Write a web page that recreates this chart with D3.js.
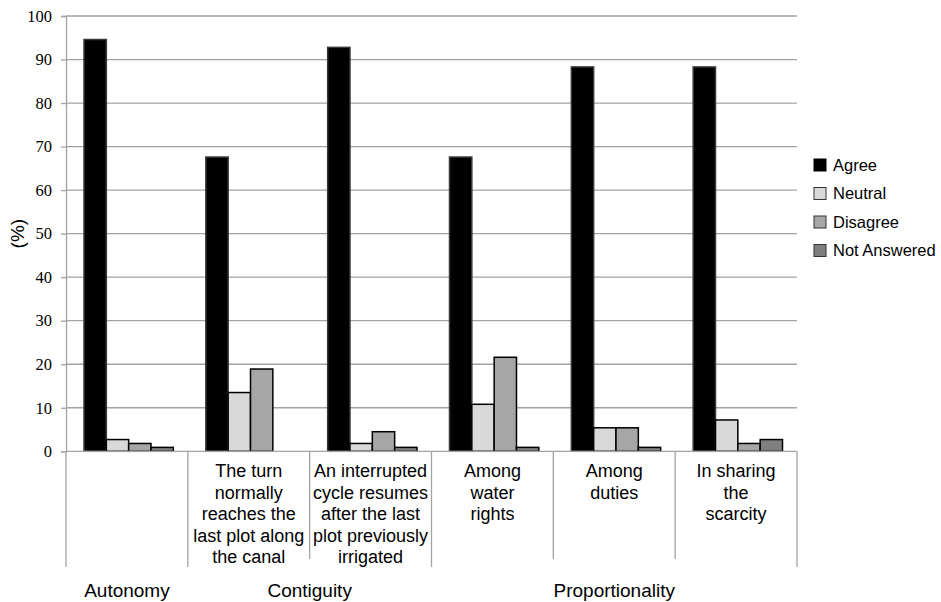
<!DOCTYPE html>
<html>
<head>
<meta charset="utf-8">
<script src="https://cdn.jsdelivr.net/npm/d3@7/dist/d3.min.js"></script>
<style>
  html, body { margin: 0; padding: 0; background: #fff; }
  svg { display: block; }
  .ytick text { font-family: "Liberation Serif", "Times New Roman", serif; }
</style>
</head>
<body>
<svg id="chart" width="941" height="602"></svg>
<script>
// ---- data ----
const groups = ["Autonomy", "Contiguity", "Proportionality"];
const subcategories = [
  { group: "Autonomy", label: [] },
  { group: "Contiguity", label: ["The turn", "normally", "reaches the", "last plot along", "the canal"] },
  { group: "Contiguity", label: ["An interrupted", "cycle resumes", "after the last", "plot previously", "irrigated"] },
  { group: "Proportionality", label: ["Among", "water", "rights"] },
  { group: "Proportionality", label: ["Among", "duties"] },
  { group: "Proportionality", label: ["In sharing", "the", "scarcity"] }
];
const series = ["Agree", "Neutral", "Disagree", "Not Answered"];
const agree       = [94.6, 67.6, 92.8, 67.6, 88.3, 88.3];
const neutral     = [2.7, 13.5, 1.8, 10.8, 5.4, 7.2];
const disagree    = [1.8, 18.9, 4.5, 21.6, 5.4, 1.8];
const notAnswered = [0.9, 0.0, 0.9, 0.9, 0.9, 2.7];
const yTicks = [0, 10, 20, 30, 40, 50, 60, 70, 80, 90, 100];

(function () {
const values = [agree, neutral, disagree, notAnswered];
const fills = ["#000000", "#d9d9d9", "#a6a6a6", "#7f7f7f"];
const strokes = ["#3a3a3a", "#000000", "#000000", "#000000"];

// ---- layout ----
const svg = d3.select("#chart");
const pLeft = 66, pRight = 797, pTop = 16, pBottom = 451.3;

const idx = d3.range(subcategories.length);
const x0 = d3.scaleBand().domain(idx).range([pLeft, pRight]).padding(0);
const bw = x0.bandwidth();
const x1 = d3.scaleBand().domain(d3.range(series.length)).range([18, bw - 14.5]).padding(0);
const y = d3.scaleLinear().domain([0, 100]).range([pBottom, pTop]);

const gridColor = "#a3a3a3";

// gridlines
svg.append("g").selectAll("line").data(yTicks.filter(d => d > 0)).join("line")
  .attr("x1", pLeft).attr("x2", pRight)
  .attr("y1", d => y(d)).attr("y2", d => y(d))
  .attr("stroke", gridColor).attr("stroke-width", 1.3);

// y axis
const yAxis = d3.axisLeft(y).tickValues(yTicks).tickSize(5).tickPadding(9).tickFormat(d3.format("d"));
const ya = svg.append("g").attr("class", "ytick").attr("transform", `translate(${pLeft},0)`).call(yAxis);
ya.attr("font-family", null);
ya.select(".domain").attr("stroke", gridColor).attr("stroke-width", 1.3);
ya.selectAll(".tick line").attr("stroke", gridColor).attr("stroke-width", 1.3);
ya.selectAll(".tick text")
  .style("font-family", "'Liberation Serif', 'Times New Roman', serif")
  .attr("font-size", 16.5).attr("fill", "#000");

// y axis title
svg.append("text")
  .attr("transform", `translate(24,${(pTop + pBottom) / 2}) rotate(-90)`)
  .attr("text-anchor", "middle")
  .style("font-family", "'Liberation Sans', Arial, sans-serif")
  .attr("font-size", 19)
  .text("(%)");

// bars
const gBars = svg.append("g");
idx.forEach(i => {
  const g = gBars.append("g").attr("transform", `translate(${x0(i)},0)`);
  series.forEach((s, j) => {
    const v = values[j][i];
    if (v <= 0) return;
    g.append("rect")
      .attr("x", x1(j))
      .attr("y", y(v))
      .attr("width", x1.bandwidth())
      .attr("height", y(0) - y(v))
      .attr("fill", fills[j])
      .attr("stroke", strokes[j])
      .attr("stroke-width", 1.5);
  });
});

// baseline
svg.append("line").attr("x1", pLeft).attr("x2", pRight).attr("y1", pBottom).attr("y2", pBottom)
  .attr("stroke", gridColor).attr("stroke-width", 1.3);

// category dividers
const boundaries = d3.range(subcategories.length + 1).map(k => {
  const xpos = k < subcategories.length ? x0(k) : pRight;
  const isGroup = k === 0 || k === subcategories.length ||
    subcategories[k].group !== subcategories[k - 1].group;
  return { x: xpos, isGroup };
});
svg.append("g").selectAll("line").data(boundaries).join("line")
  .attr("x1", d => d.x).attr("x2", d => d.x)
  .attr("y1", pBottom).attr("y2", d => d.isGroup ? 567 : 559)
  .attr("stroke", gridColor).attr("stroke-width", 1.3);

// subcategory labels
const font = "'Liberation Sans', Arial, sans-serif";
idx.forEach(i => {
  const t = svg.append("text")
    .attr("text-anchor", "middle")
    .style("font-family", font)
    .attr("font-size", 18)
    .attr("fill", "#000");
  subcategories[i].label.forEach((line, k) => {
    t.append("tspan")
      .attr("x", x0(i) + bw / 2)
      .attr("y", 477 + k * 21.5)
      .text(line);
  });
});

// group labels
groups.forEach(gname => {
  const members = idx.filter(i => subcategories[i].group === gname);
  const gx0 = x0(members[0]);
  const gx1 = x0(members[members.length - 1]) + bw;
  svg.append("text")
    .attr("x", (gx0 + gx1) / 2)
    .attr("y", 597)
    .attr("text-anchor", "middle")
    .style("font-family", font)
    .attr("font-size", 19)
    .attr("fill", "#000")
    .text(gname);
});

// legend
const legend = svg.append("g");
series.forEach((s, j) => {
  const cy = 165 + j * 28.5;
  legend.append("rect")
    .attr("x", 814).attr("y", cy - 6)
    .attr("width", 12).attr("height", 12)
    .attr("fill", fills[j])
    .attr("stroke", j === 0 ? "#000" : "#333")
    .attr("stroke-width", 1);
  legend.append("text")
    .attr("x", 833).attr("y", cy)
    .attr("dy", "0.35em")
    .style("font-family", font)
    .attr("font-size", 16.5)
    .attr("fill", "#000")
    .text(s);
});
})();
</script>
</body>
</html>
